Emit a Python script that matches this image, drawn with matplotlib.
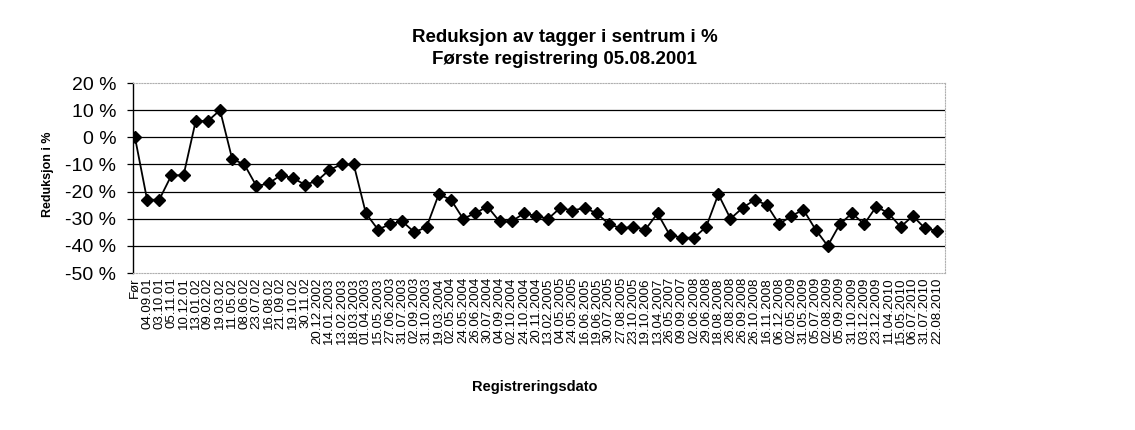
import matplotlib
matplotlib.use("Agg")
import matplotlib.pyplot as plt

dates = ["Før", "04.09.01", "03.10.01", "05.11.01", "10.12.01",
         "13.01.02", "09.02.02", "19.03.02", "11.05.02", "08.06.02", "23.07.02",
         "16.08.02", "21.09.02", "19.10.02", "30.11.02", "20.12.2002",
         "14.01.2003", "13.02.2003", "18.03.2003", "01.04.2003", "15.05.2003",
         "27.06.2003", "31.07.2003", "02.09.2003", "31.10.2003",
         "19.03.2004", "02.05.2004", "24.05.2004", "26.06.2004", "30.07.2004",
         "04.09.2004", "02.10.2004", "24.10.2004", "20.11.2004",
         "13.02.2005", "04.05.2005", "24.05.2005", "16.06.2005", "19.06.2005",
         "30.07.2005", "27.08.2005", "23.10.2005",
         "19.10.2006",
         "13.04.2007", "26.05.2007", "09.09.2007",
         "02.06.2008", "29.06.2008", "18.08.2008", "26.08.2008", "26.09.2008",
         "26.10.2008", "16.11.2008", "06.12.2008",
         "02.05.2009", "31.05.2009", "05.07.2009", "02.08.2009", "05.09.2009",
         "31.10.2009", "03.12.2009", "23.12.2009",
         "11.04.2010", "15.05.2010", "06.07.2010", "31.07.2010", "22.08.2010"]

reduction = [0, -23, -23, -14, -14, 6, 6, 10, -8, -10,
             -18, -17, -14, -15, -17.5, -16, -12, -10, -10, -28,
             -34, -32, -31, -35, -33, -21, -23, -30, -28, -25.5,
             -31, -31, -28, -29, -30, -26, -27, -26, -28, -32,
             -33.5, -33, -34, -28, -36, -37, -37, -33, -21, -30,
             -26, -23, -25, -32, -29, -26.7, -34, -40, -32, -28,
             -32, -25.5, -28, -33, -29, -33.5, -34.5]

y_ticks = [20, 10, 0, -10, -20, -30, -40, -50]
y_tick_labels = ["20 %", "10 %", "0 %", "-10 %", "-20 %", "-30 %", "-40 %", "-50 %"]

title_lines = ["Reduksjon av tagger i sentrum i %", "Første registrering 05.08.2001"]

plt.rcParams['font.family'] = ['Liberation Sans', 'DejaVu Sans']

fig = plt.figure(figsize=(11.35, 4.30), dpi=100)
ax = fig.add_axes([133 / 1135, 1 - 273 / 430, (945 - 133) / 1135, (273 - 83) / 430])

x = list(range(len(reduction)))
for v in y_ticks:
    if -50 < v < 20:
        ax.axhline(v, color="black", linewidth=0.9, zorder=1)

ax.plot(x, reduction, color="black", linewidth=1.3, marker="D", markersize=6,
        markerfacecolor="black", markeredgecolor="black", zorder=3)

ax.set_xlim(-0.16, len(reduction) - 1 + 0.65)
ax.set_ylim(-50, 20)
ax.set_yticks(y_ticks)
ax.set_yticklabels(y_tick_labels, fontsize=14)
ax.set_xticks(x)
ax.set_xticklabels(dates, rotation=90, fontsize=9.5)
ax.tick_params(axis="x", length=0, pad=3)
ax.tick_params(axis="y", length=4, width=0.9, pad=8, direction="out")

for s in ["top", "right", "bottom"]:
    ax.spines[s].set_color("#b0b0b0")
    ax.spines[s].set_linewidth(0.8)
    ax.spines[s].set_linestyle((0, (1, 1.5)))
ax.spines["left"].set_color("black")
ax.spines["left"].set_linewidth(1.0)

ax.set_ylabel("Reduksjon i %", fontsize=9, fontweight="bold")
ax.yaxis.set_label_coords(-0.097, 0.52)
ax.set_xlabel("Registreringsdato", fontsize=10.5, fontweight="bold")
ax.xaxis.set_label_coords(0.495, -0.563)

fig.text(565 / 1135, 1 - 37 / 430, title_lines[0], ha="center", va="center",
         fontsize=13.5, fontweight="bold")
fig.text(565 / 1135, 1 - 60 / 430, title_lines[1], ha="center", va="center",
         fontsize=13.5, fontweight="bold")

fig.savefig("out.png", dpi=100)
